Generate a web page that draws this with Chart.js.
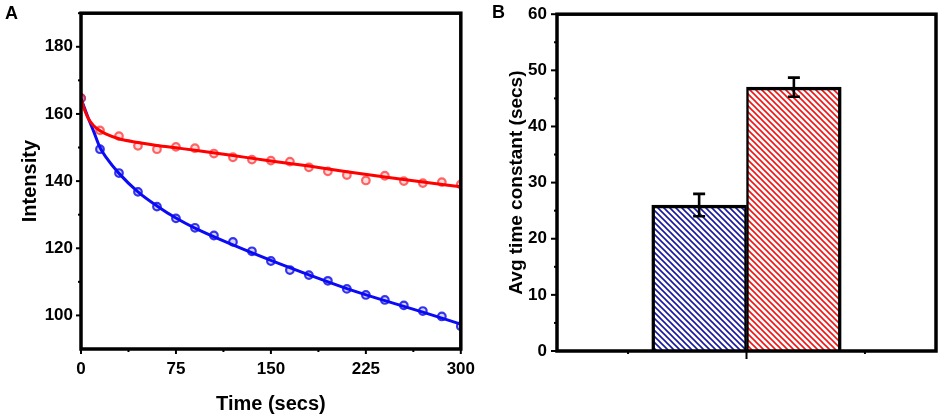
<!DOCTYPE html>
<html><head><meta charset="utf-8">
<script src="https://cdn.jsdelivr.net/npm/chart.js@4.4.0/dist/chart.umd.min.js"></script>
<style>
html,body{margin:0;padding:0;background:#fff;width:941px;height:419px;overflow:hidden}
#ca{position:absolute;left:0;top:0}
#cb{position:absolute;left:480px;top:0}
.lbl{position:absolute;font:bold 18px "Liberation Sans",Arial,sans-serif;color:#000;line-height:18px}
</style></head><body>
<canvas id="ca" width="480" height="419" style="width:480px;height:419px"></canvas>
<canvas id="cb" width="461" height="419" style="width:461px;height:419px"></canvas>
<div class="lbl" style="left:5px;top:4px">A</div>
<div class="lbl" style="left:492px;top:3px">B</div>
<script>
// ---------- Panel A data ----------
const timePoints = [0,15,30,45,60,75,90,105,120,135,150,165,180,195,210,225,240,255,270,285,300];
const redMeasured = [164.7,155.1,153.4,150.5,149.5,150.2,149.8,148.2,147.1,146.4,146.1,145.8,144.1,142.9,141.8,140.2,141.6,140.0,139.4,139.7,139.0];
const blueMeasured = [164.7,149.5,142.4,136.8,132.4,128.9,126.1,123.8,121.9,119.1,116.2,113.5,112.0,110.3,107.9,106.1,104.6,103.0,101.3,99.7,96.8];
const fitTimes = [0,3,6,10,15,20,30,45,60,75,90,120,150,180,210,240,270,300];
const redFit  = [164.5,161.0,158.5,156.5,155.0,154.0,152.6,151.5,150.6,149.9,149.2,147.6,146.0,144.5,142.8,141.2,139.7,138.3];
const blueFit = [164.5,161.5,158.5,154.8,150.0,147.0,142.3,136.8,132.6,129.0,126.0,121.0,116.4,112.1,108.0,104.4,101.0,97.4];
const intensityTicks = [100,120,140,160,180];
const intensityMinor = [110,130,150,170,190];
const timeTicks = [0,75,150,225,300];
const timeMinor = [37.5,112.5,187.5,262.5];

// ---------- Panel B data ----------
const barCategories = ['Blue group','Red group'];
const barX = [1.6, 2.4];
const barValues = [26, 47];
const barErrors = [2.0, 1.7];
const tauTicks = [0,10,20,30,40,50,60];
const tauMinor = [5,15,25,35,45,55];
const barAxisTicks = [1,2,3];

Chart.defaults.font.family = '"Liberation Sans", Arial, sans-serif';
Chart.defaults.color = '#000';

const pairs = (xs, ys) => xs.map((x, i) => ({x, y: ys[i]}));

const frameTicks = {
  id: 'frameTicks',
  afterDatasetsDraw(chart, args, o) {
    const {ctx, chartArea: a, scales} = chart;
    ctx.save();
    ctx.strokeStyle = '#000';
    ctx.lineWidth = 2;
    const yt = (list, len) => list.forEach(v => {
      const y = scales.y.getPixelForValue(v);
      if (y < a.top - 1 || y > a.bottom + 1) return;
      ctx.beginPath(); ctx.moveTo(a.left, y); ctx.lineTo(a.left - len, y); ctx.stroke();
    });
    const xt = (list, len) => list.forEach(v => {
      const x = scales.x.getPixelForValue(v);
      ctx.beginPath(); ctx.moveTo(x, a.bottom); ctx.lineTo(x, a.bottom + len); ctx.stroke();
    });
    yt(o.yMajor, o.yMajorLen); yt(o.yMinor, o.yMinorLen);
    (o.xList || []).forEach(t => xt([t.v], t.len));
    ctx.lineWidth = 3.5;
    ctx.strokeRect(a.left, a.top, a.right - a.left, a.bottom - a.top);
    ctx.restore();
  }
};

// ---------- Chart A ----------
new Chart(document.getElementById('ca'), {
  type: 'scatter',
  data: {
    datasets: [
      {data: pairs(fitTimes, redFit), showLine: true, borderColor: '#ff0000', borderWidth: 3, pointRadius: 0, cubicInterpolationMode: 'monotone', order: 1},
      {data: pairs(fitTimes, blueFit), showLine: true, borderColor: '#0a0af5', borderWidth: 3, pointRadius: 0, cubicInterpolationMode: 'monotone', order: 1},
      {data: pairs(timePoints, redMeasured), showLine: false, pointStyle: 'circle', pointRadius: 3.8, pointBorderWidth: 2.2, borderColor: 'rgba(255,40,40,0.7)', backgroundColor: 'rgba(255,170,170,0.4)', order: 2},
      {data: pairs(timePoints, blueMeasured), showLine: false, pointStyle: 'circle', pointRadius: 3.8, pointBorderWidth: 2.2, borderColor: 'rgba(20,20,230,0.85)', backgroundColor: 'rgba(150,150,255,0.4)', order: 2}
    ]
  },
  options: {
    responsive: false, animation: false,
    layout: {padding: {left: 0, top: 10, right: 19, bottom: 0}},
    plugins: {legend: {display: false}, tooltip: {enabled: false},
      frameTicks: {yMajor: intensityTicks, yMajorLen: 5, yMinor: intensityMinor, yMinorLen: 3,
        xList: timeTicks.map(v => ({v, len: 5})).concat(timeMinor.map(v => ({v, len: 3})))}},
    scales: {
      x: {type: 'linear', min: 0, max: 300,
        afterBuildTicks: s => { s.ticks = timeTicks.map(v => ({value: v})); },
        afterFit: s => { s.height = 70; },
        grid: {display: false, drawTicks: true, tickLength: 5}, border: {display: false},
        ticks: {font: {size: 17, weight: 'bold'}, padding: 5, maxRotation: 0, color: '#000'},
        title: {display: true, text: 'Time (secs)', font: {size: 20, weight: 'bold'}, padding: {top: 0, bottom: 3}, color: '#000'}},
      y: {type: 'linear', min: 90, max: 190,
        afterBuildTicks: s => { s.ticks = intensityTicks.map(v => ({value: v})); },
        afterFit: s => { s.width = 81; },
        grid: {display: false, drawTicks: true, tickLength: 5}, border: {display: false},
        ticks: {font: {size: 17, weight: 'bold'}, padding: 3, color: '#000'},
        title: {display: true, text: 'Intensity', font: {size: 20, weight: 'bold'}, padding: {top: 18, bottom: 0}, color: '#000'}}
    }
  },
  plugins: [frameTicks]
});

// ---------- Chart B ----------
function hatch(color) {
  const s = 6, c = document.createElement('canvas');
  c.width = s; c.height = s;
  const g = c.getContext('2d');
  g.fillStyle = '#fff'; g.fillRect(0, 0, s, s);
  g.strokeStyle = color; g.lineWidth = 1.6;
  g.beginPath();
  g.moveTo(-1, -1); g.lineTo(s + 1, s + 1);
  g.moveTo(s - 2, -2); g.lineTo(s + 2, 2);
  g.moveTo(-2, s - 2); g.lineTo(2, s + 2);
  g.stroke();
  return g.createPattern(c, 'repeat');
}
const cb = document.getElementById('cb');
const barFills = [hatch('#1818a0'), hatch('#f01414')];

const errorBars = {
  id: 'errorBars',
  afterDatasetsDraw(chart) {
    const {ctx, scales} = chart;
    const meta = chart.getDatasetMeta(0);
    ctx.save();
    ctx.strokeStyle = '#000'; ctx.lineWidth = 2.6;
    meta.data.forEach((el, i) => {
      const v = barValues[i], e = barErrors[i];
      const yT = scales.y.getPixelForValue(v + e), yB = scales.y.getPixelForValue(v - e);
      ctx.beginPath();
      ctx.moveTo(el.x, yT); ctx.lineTo(el.x, yB);
      ctx.moveTo(el.x - 6, yT); ctx.lineTo(el.x + 6, yT);
      ctx.moveTo(el.x - 6, yB); ctx.lineTo(el.x + 6, yB);
      ctx.stroke();
    });
    ctx.restore();
  }
};

new Chart(cb, {
  type: 'bar',
  data: {
    labels: barCategories,
    datasets: [{
      data: pairs(barX, barValues),
      backgroundColor: ctx => barFills[ctx.dataIndex],
      borderColor: '#000',
      borderWidth: ctx => ctx.dataIndex === 0 ? {top: 3.5, left: 3.5, right: 2.5, bottom: 0} : {top: 3.5, left: 2.5, right: 3.5, bottom: 0},
      borderSkipped: false,
      barPercentage: 1, categoryPercentage: 1
    }]
  },
  options: {
    responsive: false, animation: false,
    layout: {padding: {left: 0, top: 10, right: 5, bottom: 0}},
    plugins: {legend: {display: false}, tooltip: {enabled: false},
      frameTicks: {yMajor: tauTicks, yMajorLen: 6, yMinor: tauMinor, yMinorLen: 3,
        xList: barAxisTicks.map(v => ({v, len: v === 2 ? 8 : 3}))}},
    scales: {
      x: {type: 'linear', min: 0.4, max: 3.6, offset: false,
        afterBuildTicks: s => { s.ticks = barAxisTicks.map(v => ({value: v})); },
        afterFit: s => { s.height = 68; },
        grid: {display: false, offset: false}, border: {display: false},
        ticks: {display: false}},
      y: {type: 'linear', min: 0, max: 60,
        afterBuildTicks: s => { s.ticks = tauTicks.map(v => ({value: v})); },
        afterFit: s => { s.width = 77; },
        grid: {display: false, drawTicks: true, tickLength: 6}, border: {display: false},
        ticks: {font: {size: 17, weight: 'bold'}, padding: 4, color: '#000'},
        title: {display: true, text: 'Avg time constant (secs)', font: {size: 19, weight: 'bold'}, padding: {top: 25, bottom: 0}, color: '#000'}}
    }
  },
  plugins: [frameTicks, errorBars]
});
</script>
</body></html>
